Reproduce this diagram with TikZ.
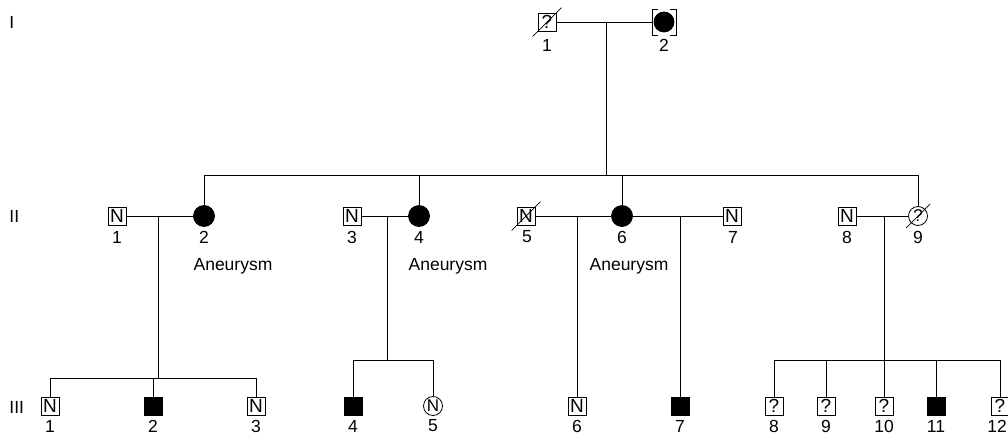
\documentclass[tikz,border=0pt]{standalone}
\usepackage{fontspec}
\setmainfont{Liberation Sans}
\begin{document}
\begin{tikzpicture}[x=1pt,y=-1pt,line width=0.8pt,
  sq/.style={draw,rectangle,minimum size=18pt,inner sep=0pt,font=\fontsize{19}{19}\selectfont},
  afsq/.style={draw,fill=black,rectangle,minimum size=18pt,inner sep=0pt},
  afc/.style={draw,fill=black,circle,minimum size=21pt,inner sep=0pt},
  ci/.style={draw,circle,minimum size=19pt,inner sep=0pt,font=\fontsize{17}{17}\selectfont},
  num/.style={font=\fontsize{17.5}{17.5}\selectfont,inner sep=0pt},
  gen/.style={font=\fontsize{17.5}{17.5}\selectfont,inner sep=0pt,anchor=west},
  dec/.style={line width=0.7pt}]
\useasboundingbox (0,0) rectangle (1008,436);
% generation labels
\node[gen] (gI) at (9,22) {I};
\node[gen] (gII) at (9,216) {II};
\node[gen] (gIII) at (9,407) {III};
% Generation I
\node[sq] (I1) at (547,22) {?};
\draw[dec] ([shift={(-5pt,-5pt)}]I1.south west) -- ([shift={(5pt,5pt)}]I1.north east);
\node[afc,minimum size=20pt] (I2) at (664,22) {};
\draw (658,9) -- (652,9) -- (652,35) -- (658,35);
\draw (670,9) -- (676,9) -- (676,35) -- (670,35);
\node[num] (lI1) at (547,45) {1};
\node[num] (lI2) at (664,45) {2};
\coordinate (m0) at (606,22);
\coordinate (m0b) at (606,175);
\draw (I1) -- (652,22);
\draw (m0) -- (m0b);
% Generation II
\node[sq] (II1) at (117,216) {N};
\node[afc] (II2) at (204,216) {};
\node[sq] (II3) at (352,216) {N};
\node[afc] (II4) at (419,216) {};
\node[sq] (II5) at (526,216) {N};
\draw[dec] ([shift={(-5pt,-5pt)}]II5.south west) -- ([shift={(5pt,5pt)}]II5.north east);
\node[afc] (II6) at (622,216) {};
\node[sq] (II7) at (732,216) {N};
\node[sq] (II8) at (847,216) {N};
\node[ci] (II9) at (918,216) {?};
\draw[dec] ([shift={(-5pt,-5pt)}]II9.south west) -- ([shift={(5pt,5pt)}]II9.north east);
\foreach \n/\x in {1/117,2/204,3/352,4/419,5/527,6/622,7/733,8/847,9/918}
  \node[num] (lII\n) at (\x,237) {\n};
\node[num] (an1) at (233,266) {Aneurysm};
\node[num] (an2) at (448,266) {Aneurysm};
\node[num] (an3) at (629,266) {Aneurysm};
% sibship of generation I
\coordinate (t1) at (204,175);
\coordinate (t2) at (419,175);
\coordinate (t3) at (622,175);
\coordinate (t4) at (918,175);
\draw (t1) -- (t4);
\draw (t1) -- (II2);
\draw (t2) -- (II4);
\draw (t3) -- (II6);
\draw (t4) -- (II9);
% couples II
\draw (II1) -- (II2);
\draw (II3) -- (II4);
\draw (II5) -- (II6);
\draw (II6) -- (II7);
\draw (II8) -- (II9);
% Generation III
\node[sq] (III1) at (50,406) {N};
\node[afsq] (III2) at (153,406) {};
\node[sq] (III3) at (256,406) {N};
\node[afsq] (III4) at (353,406) {};
\node[ci] (III5) at (433,406) {N};
\node[sq] (III6) at (577,406) {N};
\node[afsq] (III7) at (680,406) {};
\node[sq] (III8) at (774,406) {?};
\node[sq] (III9) at (826,406) {?};
\node[sq] (III10) at (884,406) {?};
\node[afsq] (III11) at (936,406) {};
\node[sq] (III12) at (1000,406) {?};
\foreach \n/\x in {1/50,2/153,3/256,4/353,5/433,6/577,7/680,8/774,9/826,10/884,11/936,12/997}
  \node[num] (lIII\n) at (\x,426) {\n};
% descents
\coordinate (d1) at (158,216);
\coordinate (d1b) at (158,378);
\draw (d1) -- (d1b);
\coordinate (s1a) at (50,378);
\coordinate (s1b) at (153,378);
\coordinate (s1c) at (256,378);
\draw (s1a) -- (s1c);
\draw (s1a) -- (III1);
\draw (s1b) -- (III2);
\draw (s1c) -- (III3);
\coordinate (d2) at (387,216);
\coordinate (d2b) at (387,360);
\draw (d2) -- (d2b);
\coordinate (s2a) at (353,360);
\coordinate (s2b) at (433,360);
\draw (s2a) -- (s2b);
\draw (s2a) -- (III4);
\draw (s2b) -- (III5);
\coordinate (d3) at (577,216);
\draw (d3) -- (III6);
\coordinate (d4) at (680,216);
\draw (d4) -- (III7);
\coordinate (d5) at (884,216);
\draw (d5) -- (III10);
\coordinate (s5a) at (774,360);
\coordinate (s5b) at (826,360);
\coordinate (s5d) at (936,360);
\coordinate (s5e) at (1000,360);
\draw (s5a) -- (s5e);
\draw (s5a) -- (III8);
\draw (s5b) -- (III9);
\draw (s5d) -- (III11);
\draw (s5e) -- (III12);
\end{tikzpicture}
\end{document}
